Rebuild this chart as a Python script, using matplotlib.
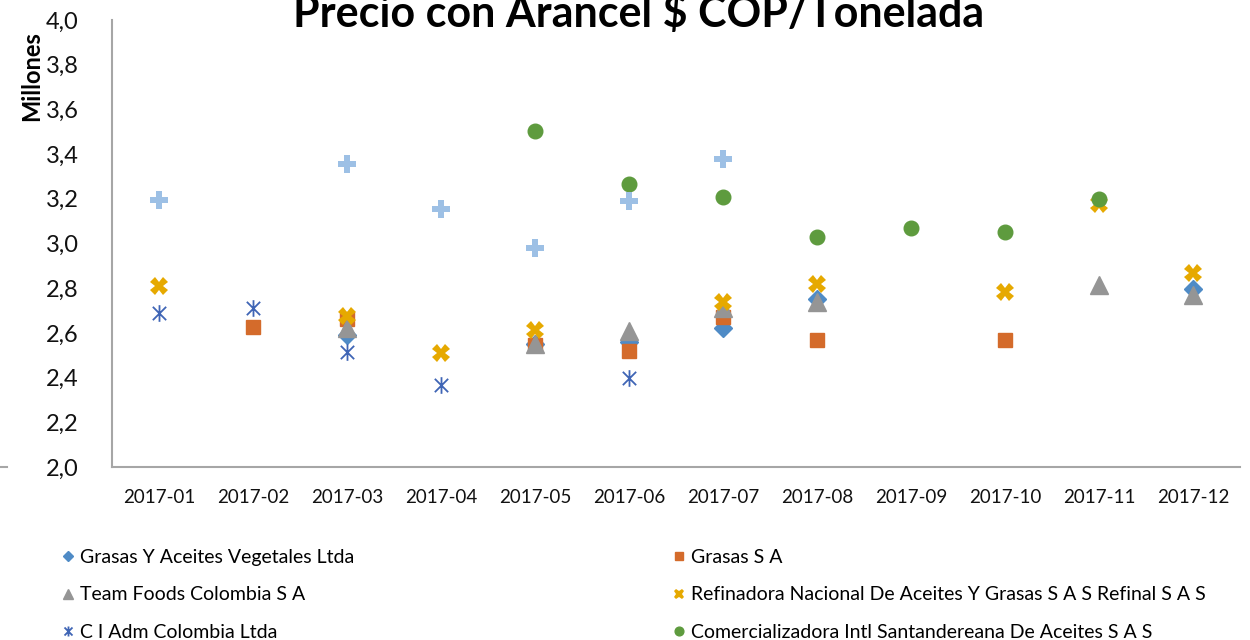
import numpy as np
import matplotlib
matplotlib.use("Agg")
import matplotlib.pyplot as plt
from matplotlib.path import Path
from matplotlib.lines import Line2D

plt.rcParams["font.family"] = ["Lato", "DejaVu Sans"]

# ============================
#  DATOS (millones de COP / tonelada)
# ============================
meses = ["2017-01", "2017-02", "2017-03", "2017-04", "2017-05", "2017-06",
         "2017-07", "2017-08", "2017-09", "2017-10", "2017-11", "2017-12"]

nan = np.nan
grasas_aceites_veg = [nan, nan, 2.59, nan, 2.55, 2.56, 2.62, 2.75, nan, nan, nan, 2.795]
grasas_sa          = [nan, 2.625, 2.66, nan, 2.545, 2.517, 2.67, 2.57, nan, 2.57, nan, nan]
team_foods         = [nan, nan, 2.62, nan, 2.55, 2.61, 2.71, 2.74, nan, nan, 2.815, 2.77]
refinal            = [2.81, nan, 2.677, 2.512, 2.615, nan, 2.74, 2.82, nan, 2.784, 3.176, 2.869]
ci_adm             = [2.69, 2.713, 2.514, 2.365, nan, 2.396, nan, nan, nan, nan, nan, nan]
comercializadora   = [nan, nan, nan, nan, 3.504, 3.265, 3.207, 3.03, 3.07, 3.053, 3.198, nan]
otra_serie         = [3.194, nan, 3.354, 3.154, 2.98, 3.19, 3.376, nan, nan, nan, nan, nan]

# ============================
#  COLORES
# ============================
AZUL       = "#4F8BC6"
NARANJA    = "#D46B2B"
GRIS       = "#959595"
AMARILLO   = "#E6A900"
AZUL_OSC   = "#3F65B5"
VERDE      = "#5E9B3E"
AZUL_CLARO = "#9DC0E5"

asterisco = Path([(-1, -1), (1, 1), (-1, 1), (1, -1), (0, -1.25), (0, 1.25)],
                 [Path.MOVETO, Path.LINETO, Path.MOVETO, Path.LINETO,
                  Path.MOVETO, Path.LINETO])

fig = plt.figure(figsize=(12.5, 6.4), dpi=100)
ax = fig.add_axes([112/1250, 1 - 467/640, (1240 - 112)/1250, (467 - 20)/640])

x = np.arange(len(meses))
series = [
    ("Grasas Y Aceites Vegetales Ltda", grasas_aceites_veg, dict(marker="D", ms=9, color=AZUL)),
    ("Grasas S A", grasas_sa, dict(marker="s", ms=10.5, color=NARANJA)),
    ("Team Foods Colombia S A", team_foods, dict(marker="^", ms=13, color=GRIS)),
    ("Refinadora Nacional De Aceites Y Grasas S A S Refinal S A S", refinal,
     dict(marker="X", ms=12.5, color=AMARILLO, markeredgewidth=0)),
    ("C I Adm Colombia Ltda", ci_adm,
     dict(marker=asterisco, ms=12, color=AZUL_OSC, mfc="none", mec=AZUL_OSC, mew=1.3)),
    ("Comercializadora Intl Santandereana De Aceites S A S", comercializadora,
     dict(marker="o", ms=10.5, color=VERDE)),
    ("_otra", otra_serie, dict(marker="P", ms=12.5, color=AZUL_CLARO, markeredgewidth=0)),
]

handles = {}
for nombre, vals, estilo in series:
    (h,) = ax.plot(x, vals, linestyle="none", label=nombre, **estilo)
    handles[nombre] = h

ax.set_xlim(-0.5, len(meses) - 0.5)
ax.set_ylim(2.0, 4.0)
ax.set_yticks(np.arange(2.0, 4.01, 0.2))
ax.set_yticklabels([f"{v:.1f}".replace(".", ",") for v in np.arange(2.0, 4.01, 0.2)])
ax.set_xticks(x)
ax.set_xticklabels(meses)
ax.tick_params(axis="y", length=0, pad=24, labelsize=17, colors="#111111")
ax.tick_params(axis="x", length=0, pad=16, labelsize=13.5, colors="#111111")

for s in ["top", "right"]:
    ax.spines[s].set_visible(False)
for s in ["left", "bottom"]:
    ax.spines[s].set_color("#A6A6A6")
    ax.spines[s].set_linewidth(1.5)

fig.text(0.511, 1 - 27/640, "Precio con Arancel $ COP/Tonelada", ha="center",
         va="baseline", fontsize=31, fontweight="bold")
fig.text(32/1250, 1 - 76/640, "Millones", rotation=90, ha="center", va="center",
         fontsize=17, fontweight="bold")

fig.add_artist(Line2D([0, 7/1250], [1 - 467/640, 1 - 467/640], color="#A6A6A6", lw=1.5))

# ============================
#  LEYENDA (dos columnas)
# ============================
col1 = ["Grasas Y Aceites Vegetales Ltda", "Team Foods Colombia S A", "C I Adm Colombia Ltda"]
col2 = ["Grasas S A", "Refinadora Nacional De Aceites Y Grasas S A S Refinal S A S",
        "Comercializadora Intl Santandereana De Aceites S A S"]
for nombres, x0 in [(col1, 58/1250), (col2, 669/1250)]:
    leg = fig.legend([handles[n] for n in nombres], nombres, loc="upper left",
                     bbox_to_anchor=(x0, 1 - 549/640), frameon=False, fontsize=14,
                     markerscale=0.6, handlelength=1.0, handletextpad=0.15,
                     labelspacing=1.05, borderpad=0, borderaxespad=0)

fig.savefig("out.png", dpi=100)
